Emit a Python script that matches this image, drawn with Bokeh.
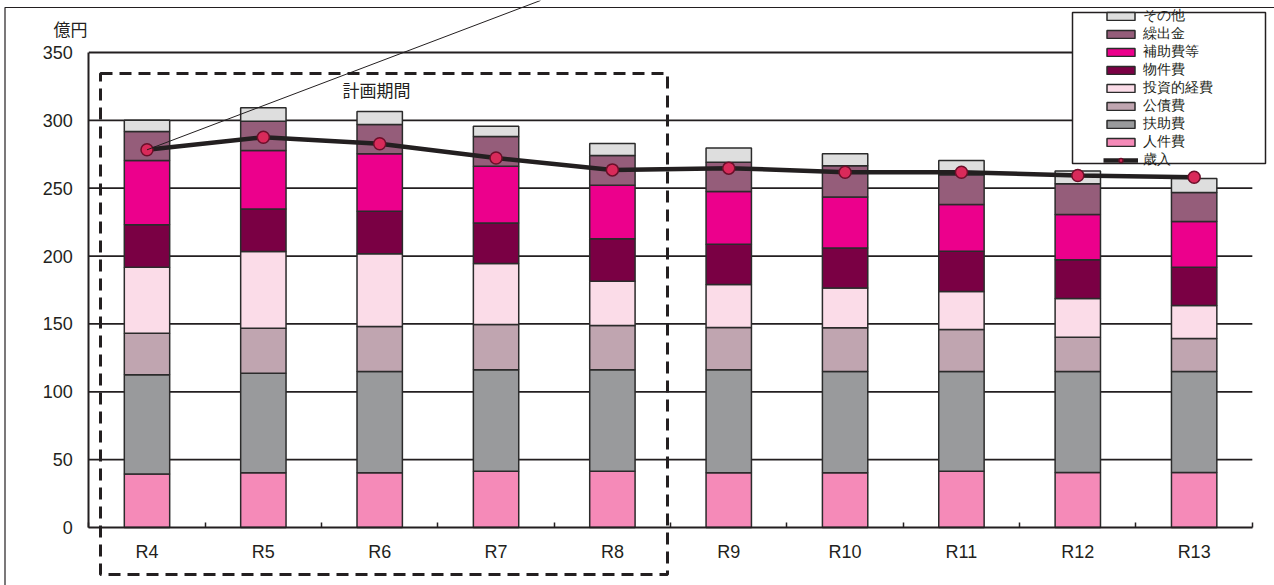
from bokeh.plotting import figure
from bokeh.models import (Range1d, LinearAxis, FixedTicker, Legend, LegendItem,
                          ColumnDataSource)
from bokeh.core.properties import value
from bokeh.embed import file_html
from bokeh.resources import INLINE

# ---------------- data (億円) ----------------
categories = ["R4", "R5", "R6", "R7", "R8", "R9", "R10", "R11", "R12", "R13"]
jinkenhi   = [39.5, 40.3, 40.3, 41.5, 41.5, 40.3, 40.3, 41.5, 40.5, 40.5]   # 人件費
fujohi     = [73.0, 73.4, 74.7, 74.7, 74.7, 75.9, 74.7, 73.5, 74.5, 74.5]   # 扶助費
kousaihi   = [30.7, 33.2, 33.1, 33.4, 32.7, 31.1, 32.1, 30.9, 25.2, 24.3]   # 公債費
toushi     = [48.6, 56.5, 53.6, 44.9, 32.6, 31.7, 29.3, 28.0, 28.6, 24.3]   # 投資的経費
bukkenhi   = [31.3, 31.2, 31.4, 29.8, 31.2, 29.7, 29.6, 29.7, 28.5, 28.2]   # 物件費
hojohi     = [47.3, 43.2, 42.3, 41.9, 39.5, 38.9, 37.5, 34.4, 33.4, 33.7]   # 補助費等
kuridashi  = [21.4, 21.6, 21.6, 21.9, 21.9, 21.6, 23.1, 21.9, 22.6, 21.4]   # 繰出金
sonota     = [8.2, 9.9, 9.6, 7.6, 8.9, 10.5, 8.8, 10.5, 9.3, 10.3]          # その他
sainyu     = [278.3, 287.6, 282.8, 272.2, 263.5, 264.8, 261.8, 261.8, 259.4, 258.1]  # 歳入

series_names = ["人件費", "扶助費", "公債費", "投資的経費", "物件費", "補助費等", "繰出金", "その他"]
series_values = [jinkenhi, fujohi, kousaihi, toushi, bukkenhi, hojohi, kuridashi, sonota]
series_colors = ["#F58AB8", "#999A9C", "#C0A5B0", "#FBDCE8", "#7A0044", "#EC008C", "#955D7A", "#DEDEDE"]
y_ticks = [0, 50, 100, 150, 200, 250, 300, 350]
period_label = "計画期間"
unit_label = "億円"
line_label = "歳入"

# ---------------- layout helpers (pixel -> data) ----------------
W, H = 1274, 585
X0_PX = 146.5          # pixel centre of first category
DX_PX = 116.35         # pixels per category
Y0_PX = 527.0          # pixel row of value 0
PPU = 475.0 / 350.0    # pixels per unit


def dx(px):
    return (px - X0_PX) / DX_PX


def dy(py):
    return (Y0_PX - py) / PPU


INK = "#231F20"
JP = "Noto Sans CJK JP"
LAT = "Liberation Sans"

xs = list(range(len(categories)))
data = dict(x=xs, sainyu=sainyu)
for n, v in zip(series_names, series_values):
    data[n] = v
src = ColumnDataSource(data)

p = figure(width=W, height=H, x_range=Range1d(dx(0), dx(W)), y_range=Range1d(dy(H), dy(0)),
           x_axis_type=None, y_axis_type=None, output_backend="svg", toolbar_location=None,
           min_border=0, outline_line_color=None, background_fill_color="white",
           border_fill_color="white")

x_lo, x_hi = -0.5, len(categories) - 0.5

# horizontal grid lines
p.segment(x0=[x_lo] * (len(y_ticks) - 1), x1=[x_hi] * (len(y_ticks) - 1),
          y0=y_ticks[1:], y1=y_ticks[1:], line_color=INK, line_width=1.8)

# outer frame (left + top)
p.line([dx(4.5), dx(4.5), dx(W)], [dy(H), dy(7), dy(7)], line_color=INK, line_width=1.2)

# stacked bars
bars = p.vbar_stack(series_names, x="x", width=0.39, source=src, fill_color=series_colors,
                    line_color="#2B2B2B", line_width=1.5)

# revenue line
ln = p.line("x", "sainyu", source=src, line_color=INK, line_width=4.5)
sc = p.scatter("x", "sainyu", source=src, size=12, fill_color="#D92A5A", line_color="#6B0F2A",
               line_width=1.5)

# leader line from the first point
p.segment(x0=[xs[0]], y0=[sainyu[0]], x1=[dx(540)], y1=[dy(0)], line_color=INK, line_width=1)

# planning-period dashed box
p.quad(left=[dx(100)], right=[dx(667)], top=[dy(73)], bottom=[dy(574)], fill_color=None,
       line_color=INK, line_width=3, line_dash="12 7")
p.text(x=[dx(342)], y=[dy(89)], text=[period_label], text_font=value(JP), text_font_size="17px",
       text_align="left", text_baseline="middle", text_color=INK)

# unit label
p.text(x=[dx(87)], y=[dy(28)], text=[unit_label], text_font=value(JP), text_font_size="17px",
       text_align="right", text_baseline="middle", text_color=INK)

# axes
yaxis = LinearAxis(fixed_location=x_lo, bounds=(0, 350), ticker=FixedTicker(ticks=y_ticks),
                   major_tick_in=0, major_tick_out=0, minor_tick_in=0, minor_tick_out=0,
                   axis_line_color=INK, axis_line_width=2, major_label_standoff=16,
                   major_label_text_font=LAT, major_label_text_font_size="18px",
                   major_label_text_color=INK)
p.add_layout(yaxis, "left")

xaxis = LinearAxis(fixed_location=0, bounds=(x_lo, x_hi),
                   ticker=FixedTicker(ticks=xs, minor_ticks=[i - 0.5 for i in range(len(xs) + 1)]),
                   major_label_overrides={i: c for i, c in zip(xs, categories)},
                   major_tick_line_color=None, minor_tick_in=5, minor_tick_out=0,
                   minor_tick_line_color=INK, minor_tick_line_width=1.5,
                   axis_line_color=INK, axis_line_width=2, major_label_standoff=8,
                   major_label_text_font=LAT, major_label_text_font_size="18px",
                   major_label_text_color=INK)
p.add_layout(xaxis, "below")

# legend box
p.quad(left=[dx(1072)], right=[dx(1265)], top=[dy(12)], bottom=[dy(163)], fill_color="white",
       line_color=INK, line_width=1.5)

items = [LegendItem(label=n, renderers=[r]) for n, r in zip(series_names, bars)][::-1]
items.append(LegendItem(label=line_label, renderers=[ln, sc]))
legend = Legend(items=items, location=(1103, H - 169), margin=0, padding=0, spacing=0,
                glyph_width=35, glyph_height=10, label_height=16, label_standoff=5,
                label_text_font=LAT, label_text_font_size="13.5px",
                label_text_color=INK, background_fill_alpha=0, border_line_color=None)
p.add_layout(legend, "center")

open("out.html", "w").write(file_html(p, INLINE))
